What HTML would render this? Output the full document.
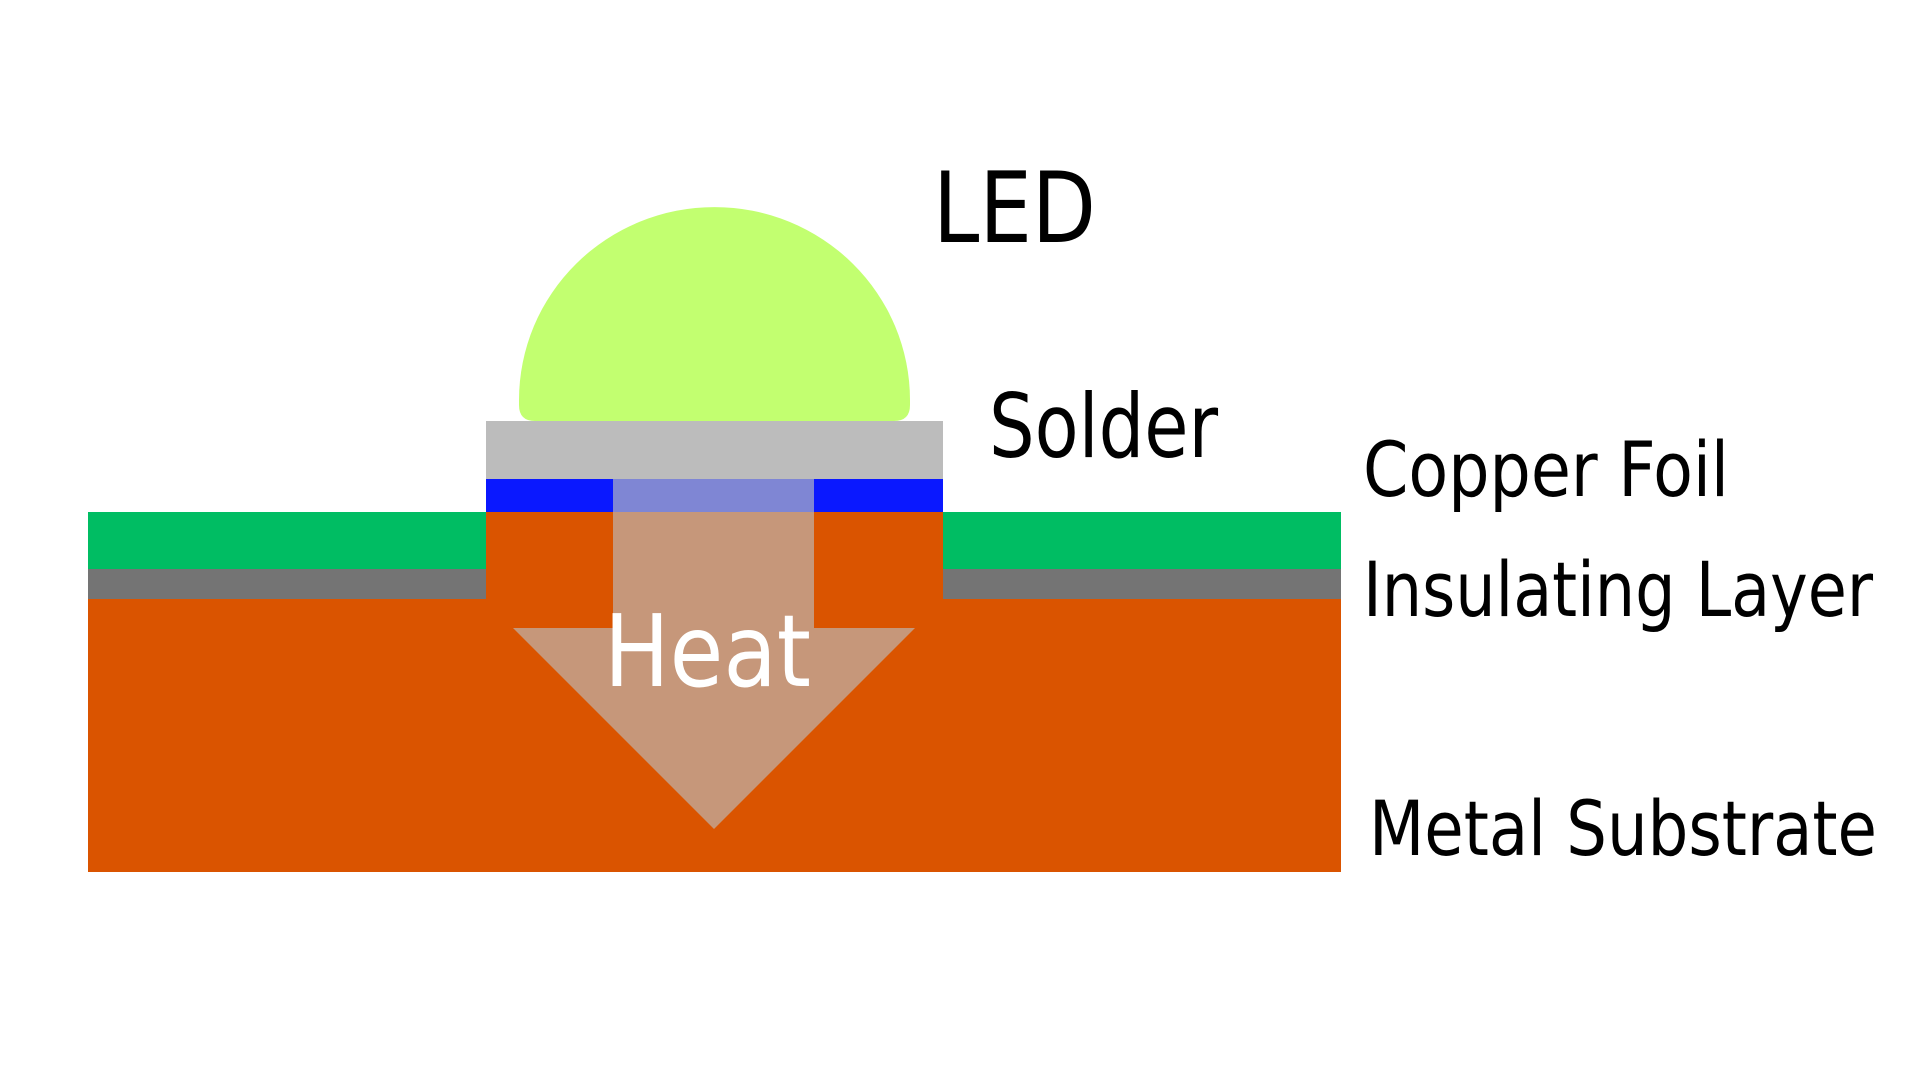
<!DOCTYPE html>
<html><head><meta charset="utf-8"><style>html,body{margin:0;padding:0;background:#fff}svg{display:block}</style></head>
<body>
<svg width="1920" height="1080" viewBox="0 0 1920 1080" xmlns="http://www.w3.org/2000/svg">
<rect width="1920" height="1080" fill="#fff"/>
<rect x="88" y="512" width="1253" height="360" fill="#da5400"/>
<rect x="88" y="512" width="398" height="57" fill="#00bd63"/>
<rect x="943" y="512" width="398" height="57" fill="#00bd63"/>
<rect x="88" y="569" width="398" height="30" fill="#747474"/>
<rect x="943" y="569" width="398" height="30" fill="#747474"/>
<rect x="486" y="479" width="127" height="33" fill="#0a18ff"/>
<rect x="814" y="479" width="129" height="33" fill="#0a18ff"/>
<rect x="613" y="479" width="201" height="33" fill="#7f86d4"/>
<rect x="486" y="421" width="457" height="58" fill="#bcbcbc"/>
<path d="M519,400 A195.5,193 0 0 1 910,400 L910,405 Q910,421 894,421 L535,421 Q519,421 519,405 Z" fill="#c2ff70"/>
<path d="M613,512 L814,512 L814,628 L915,628 L714,829 L513,628 L613,628 Z" fill="#c6977a"/>
<g font-family="'DejaVu Sans Condensed','Liberation Sans',sans-serif">
<text x="604" y="686" font-size="100" fill="#fff" textLength="207" lengthAdjust="spacingAndGlyphs">Heat</text>
<text x="933" y="242" font-size="98" fill="#000" textLength="163" lengthAdjust="spacingAndGlyphs">LED</text>
<text x="989" y="457" font-size="88" fill="#000" textLength="229" lengthAdjust="spacingAndGlyphs">Solder</text>
<text x="1363" y="496" font-size="76" fill="#000" textLength="366" lengthAdjust="spacingAndGlyphs">Copper Foil</text>
<text x="1363" y="616" font-size="76" fill="#000" textLength="510" lengthAdjust="spacingAndGlyphs">Insulating Layer</text>
<text x="1369" y="855" font-size="76" fill="#000" textLength="508" lengthAdjust="spacingAndGlyphs">Metal Substrate</text>
</g>
</svg>
</body></html>
